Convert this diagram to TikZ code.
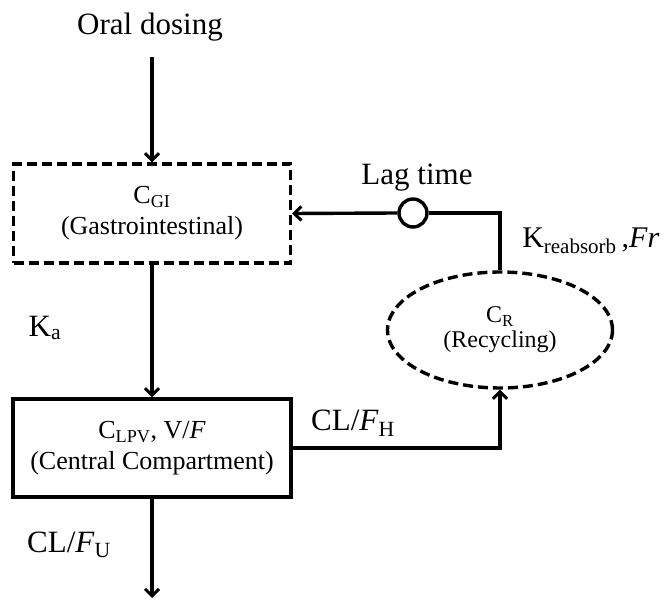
\documentclass[tikz,border=0pt]{standalone}
\usepackage{fontspec}
\setmainfont{Liberation Serif}
\usetikzlibrary{arrows.meta,shapes.geometric}
\begin{document}
\begin{tikzpicture}[x=1pt,y=1pt,
  line width=3.4pt,
  >={Straight Barb[length=7pt,width=14pt,line width=3pt]},
  bigtxt/.style={font=\fontsize{31}{37}\selectfont, inner sep=0pt},
  boxtxt/.style={font=\fontsize{26}{31}\selectfont, align=center},
  dashbox/.style={draw, dash pattern=on 10pt off 5pt, rectangle, inner sep=0pt},
  solidbox/.style={draw, rectangle, inner sep=0pt},
  recyc/.style={draw, ellipse, dash pattern=on 10pt off 5pt, inner sep=0pt,
    font=\fontsize{24}{25}\selectfont, align=center},
  lagcirc/.style={draw, circle, fill=white, minimum size=28pt, inner sep=0pt}
]
\useasboundingbox (0,0) rectangle (667,-601);

\node[bigtxt] (oral) at (150,-27) {Oral dosing};
\coordinate (oraltop) at (152,-57);

\node[dashbox, boxtxt, minimum width=277pt, minimum height=99pt] (gi) at (152,-213.5)
  {C\textsubscript{GI}\\(Gastrointestinal)};

\node[solidbox, boxtxt, minimum width=278pt, minimum height=98pt] (cen) at (152,-448)
  {C\textsubscript{LPV}, V/\textit{F}\\(Central Compartment)};

\node[recyc, minimum width=225pt, minimum height=116pt] (rec) at (500,-330)
  {C\textsubscript{R}\\(Recycling)};

\coordinate (corner) at (500,-213);
\coordinate (corner2) at (500,-448);
\coordinate (outend) at (152,-598);
\node[lagcirc] (lag) at (413,-213) {};

\draw[->] (oraltop) -- (gi.north);
\draw[->] (gi.south) -- (cen.north);
\draw[->] (cen.south) -- (outend);
\draw[->] (cen.east) -- (corner2) -- (rec.south);
\draw (rec.north) -- (corner) -- (lag.east);
\draw[->] (lag.west) -- (gi.east);

\node[bigtxt] (lagl) at (417,-178) {Lag time};
\node[font=\fontsize{30}{36}\selectfont, inner sep=0pt, anchor=base east] (kre) at (661,-248)
  {K\textsubscript{reabsorb}\,,\textit{Fr}};
\node[bigtxt] (ka) at (45,-328) {K\textsubscript{a}};
\node[bigtxt] (clh) at (353,-423) {CL/\textit{F}\textsubscript{H}};
\node[bigtxt] (clu) at (69,-545) {CL/\textit{F}\textsubscript{U}};
\end{tikzpicture}
\end{document}
